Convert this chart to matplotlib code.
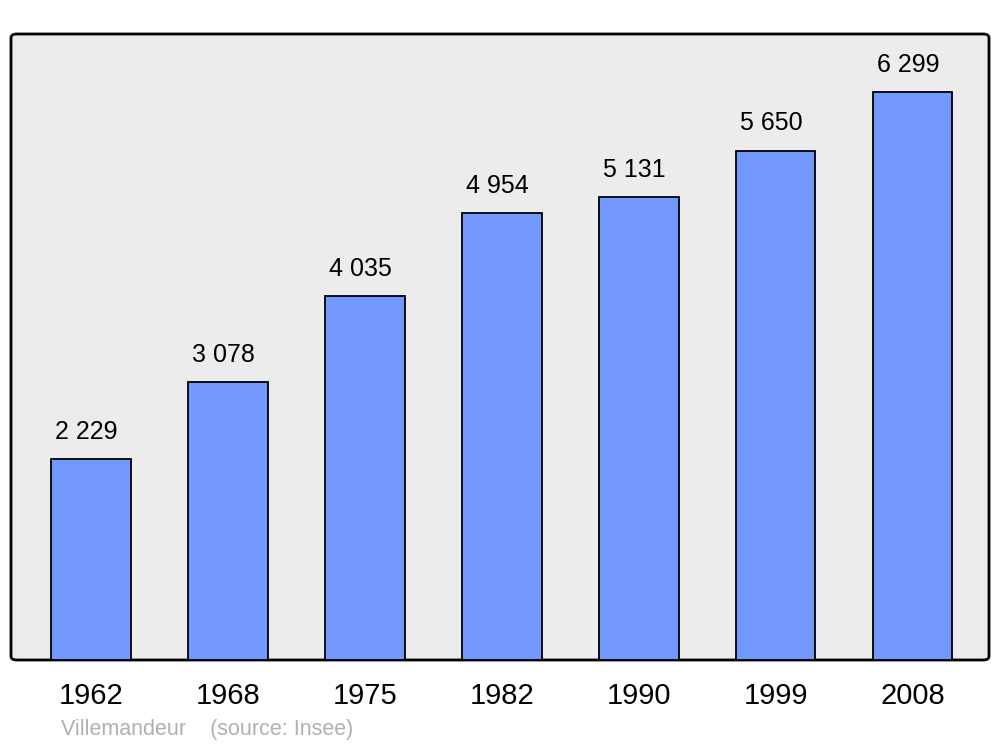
import matplotlib.pyplot as plt
from matplotlib.patches import FancyBboxPatch

plt.rcParams['font.family'] = ['Liberation Sans', 'DejaVu Sans']

# ====== Data ======
years = ["1962", "1968", "1975", "1982", "1990", "1999", "2008"]
population = [2229, 3078, 4035, 4954, 5131, 5650, 6299]
value_labels = ["2 229", "3 078", "4 035", "4 954", "5 131", "5 650", "6 299"]

# ====== Figure ======
fig = plt.figure(figsize=(10, 7.47), dpi=100)
W, H = 1000, 747
left, right, top, bottom = 11, 989, 34, 660
ax = fig.add_axes([left / W, 1 - bottom / H, (right - left) / W, (bottom - top) / H])
ax.set_facecolor("none")

# rounded frame behind the bars
frame = FancyBboxPatch((0, 0), 1, 1, boxstyle="round,pad=0,rounding_size=0.006",
                       transform=ax.transAxes, facecolor="#ececec",
                       edgecolor="black", linewidth=2, zorder=0, clip_on=False)
ax.add_patch(frame)

x = list(range(len(years)))
ax.bar(x, population, width=0.577, color="#7399ff", edgecolor="black", linewidth=1.3, zorder=2)

for xi, v, lab in zip(x, population, value_labels):
    ax.annotate(lab, (xi, v), xytext=(-3.5, 11), textcoords="offset points",
                ha="center", va="bottom", fontsize=18)

ax.set_xlim(-0.584, 6.555)
ax.set_ylim(0, 6942)
ax.set_yticks([])
ax.set_xticks(x)
ax.set_xticklabels(years, fontsize=21)
ax.tick_params(axis="x", length=0, pad=16)
for s in ax.spines.values():
    s.set_visible(False)

fig.text(61 / W, 1 - 730 / H, "Villemandeur    (source: Insee)", color="#b0b0b0",
         fontsize=15.5, va="center", ha="left")

plt.savefig("out.png", dpi=100)
